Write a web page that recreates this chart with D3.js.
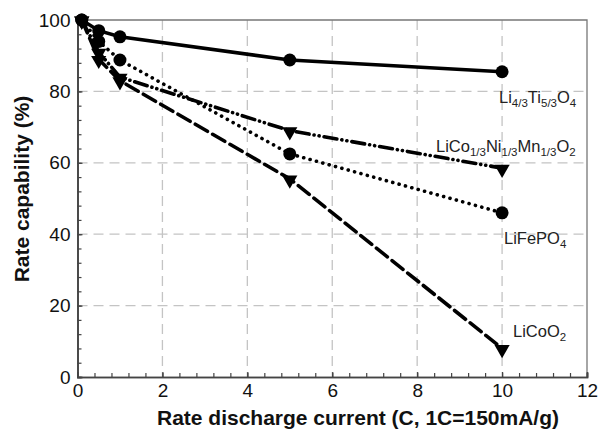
<!DOCTYPE html>
<html lang="en">
	<head>
		<meta charset="utf-8">
		<title>Rate capability</title>
		<script type="text/javascript" src="https://cdn.jsdelivr.net/npm/d3@7"></script>
		<style type="text/css">
			body { margin: 0; background: #fff; }
			text { font-family: "Liberation Sans", Arial, sans-serif; }
		</style>
	</head>

	<body>
		<script type="text/javascript">

		// data
		var rates = [0.1, 0.5, 1, 5, 10];
		var lto = [100, 97, 95.3, 88.8, 85.5];
		var lfp = [100, 94, 88.8, 62.5, 46];
		var nmc = [100, 91, 84, 69, 58.5];
		var lco = [100, 89, 83, 55.5, 8];

		var xTicks = [0, 2, 4, 6, 8, 10, 12];
		var yTicks = [0, 20, 40, 60, 80, 100];

		var series = [
			{name: "lto", values: lto, marker: "circle", dash: null},
			{name: "lfp", values: lfp, marker: "circle", dash: "0.1,6.5"},
			{name: "nmc", values: nmc, marker: "triangle", dash: "13,5,0.1,5,0.1,5"},
			{name: "lco", values: lco, marker: "triangle", dash: "14,6"}
		];

		var w = 605;
		var h = 433;
		var mLeft = 77.5, mRight = 587, mTop = 20, mBottom = 377;

		var svg = d3.select("body")
					.append("svg")
					.attr("width", w)
					.attr("height", h);

		var xScale = d3.scaleLinear().domain([0, 12]).range([mLeft, mRight]);
		var yScale = d3.scaleLinear().domain([0, 100]).range([mBottom, mTop]);

		//dashed grid
		svg.append("g").selectAll("line")
			.data(xTicks.slice(1, -1))
			.enter().append("line")
			.attr("x1", function(d) { return xScale(d); })
			.attr("x2", function(d) { return xScale(d); })
			.attr("y1", mTop).attr("y2", mBottom)
			.attr("stroke", "#c4c4c4").attr("stroke-width", 1.3)
			.attr("stroke-dasharray", "10,6");

		svg.append("g").selectAll("line")
			.data(yTicks.slice(1, -1))
			.enter().append("line")
			.attr("y1", function(d) { return yScale(d); })
			.attr("y2", function(d) { return yScale(d); })
			.attr("x1", mLeft).attr("x2", mRight)
			.attr("stroke", "#c4c4c4").attr("stroke-width", 1.3)
			.attr("stroke-dasharray", "10,6");

		//frame top and right
		svg.append("path")
			.attr("d", "M" + mLeft + "," + mTop + "H" + mRight + "V" + mBottom)
			.attr("fill", "none")
			.attr("stroke", "#777")
			.attr("stroke-width", 1.3);

		//axes with inward ticks
		var xMinor = d3.axisBottom(xScale)
			.tickValues(d3.range(0, 12.01, 0.4))
			.tickSize(-4).tickFormat("");
		var xAxis = d3.axisBottom(xScale)
			.tickValues(xTicks)
			.tickSize(-5).tickPadding(7)
			.tickFormat(d3.format("d"));
		var yMinor = d3.axisLeft(yScale)
			.tickValues(d3.range(0, 100.01, 4))
			.tickSize(-4).tickFormat("");
		var yAxis = d3.axisLeft(yScale)
			.tickValues(yTicks)
			.tickSize(-5).tickPadding(7)
			.tickFormat(d3.format("d"));

		svg.append("g").attr("class", "x minor")
			.attr("transform", "translate(0," + mBottom + ")").call(xMinor);
		svg.append("g").attr("class", "x axis")
			.attr("transform", "translate(0," + mBottom + ")").call(xAxis);
		svg.append("g").attr("class", "y minor")
			.attr("transform", "translate(" + mLeft + ",0)").call(yMinor);
		svg.append("g").attr("class", "y axis")
			.attr("transform", "translate(" + mLeft + ",0)").call(yAxis);

		svg.selectAll(".axis path, .minor path")
			.attr("stroke", "#444").attr("stroke-width", 1.6);
		svg.selectAll(".axis line, .minor line")
			.attr("stroke", "#444").attr("stroke-width", 1.2);
		svg.selectAll(".axis text")
			.attr("font-size", "19px")
			.attr("fill", "#111")
			.attr("font-family", "Liberation Sans, Arial, sans-serif");

		//lines
		var line = d3.line()
			.x(function(d, i) { return xScale(rates[i]); })
			.y(function(d) { return yScale(d); });

		series.forEach(function(s) {
			svg.append("path")
				.datum(s.values)
				.attr("d", line)
				.attr("fill", "none")
				.attr("stroke", "#000")
				.attr("stroke-width", 3.6)
				.attr("stroke-linecap", s.dash ? "round" : "butt")
				.attr("stroke-dasharray", s.dash);
		});

		//markers
		var tri = d3.symbol().type(d3.symbolTriangle).size(100);
		series.forEach(function(s) {
			var g = svg.append("g");
			if (s.marker == "circle") {
				g.selectAll("circle")
					.data(s.values)
					.enter().append("circle")
					.attr("cx", function(d, i) { return xScale(rates[i]); })
					.attr("cy", function(d) { return yScale(d); })
					.attr("r", 6.5)
					.attr("fill", "#000");
			} else {
				g.selectAll("path")
					.data(s.values)
					.enter().append("path")
					.attr("d", tri)
					.attr("transform", function(d, i) {
						return "translate(" + xScale(rates[i]) + "," + (yScale(d) + 1) + ") rotate(180)";
					})
					.attr("fill", "#000");
			}
		});

		//series labels with subscripts
		var labels = [
			{x: 499, y: 103, parts: [["Li", 0], ["4/3", 1], ["Ti", 0], ["5/3", 1], ["O", 0], ["4", 1]]},
			{x: 436, y: 152, parts: [["LiCo", 0], ["1/3", 1], ["Ni", 0], ["1/3", 1], ["Mn", 0], ["1/3", 1], ["O", 0], ["2", 1]]},
			{x: 504, y: 244, parts: [["LiFePO", 0], ["4", 1]]},
			{x: 513, y: 337, parts: [["LiCoO", 0], ["2", 1]]}
		];

		labels.forEach(function(l) {
			var t = svg.append("text")
				.attr("x", l.x).attr("y", l.y)
				.attr("font-size", "16.5px")
				.attr("fill", "#222");
			var sub = false;
			l.parts.forEach(function(p) {
				var ts = t.append("tspan").text(p[0]);
				if (p[1] == 1 && !sub) { ts.attr("dy", 4).attr("font-size", "11.5px"); sub = true; }
				else if (p[1] == 1) { ts.attr("font-size", "11.5px"); }
				else if (sub) { ts.attr("dy", -4); sub = false; }
			});
		});

		//axis titles
		svg.append("text")
			.attr("x", 358).attr("y", 425)
			.attr("text-anchor", "middle")
			.attr("font-size", "21px")
			.attr("font-weight", "bold")
			.attr("fill", "#111")
			.text("Rate discharge current (C, 1C=150mA/g)");

		svg.append("text")
			.attr("transform", "translate(29,189) rotate(-90)")
			.attr("text-anchor", "middle")
			.attr("font-size", "21px")
			.attr("font-weight", "bold")
			.attr("fill", "#111")
			.text("Rate capability (%)");

		</script>
	</body>
</html>
